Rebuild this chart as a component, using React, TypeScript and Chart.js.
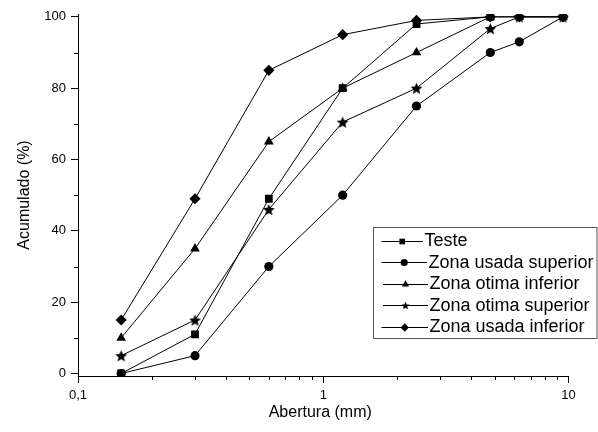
import React, { useEffect, useRef } from "react";
import { Chart, registerables } from "chart.js";

Chart.register(...registerables);

const aberturas = [0.15, 0.3, 0.6, 1.2, 2.4, 4.8, 6.3, 9.5];
const teste = [0, 11, 49, 80, 98, 100];
const zonaUsadaSuperior = [0, 5, 30, 50, 75, 90, 93, 100];
const zonaOtimaInferior = [10, 35, 65, 80, 90, 100, 100, 100];
const zonaOtimaSuperior = [5, 15, 46, 70.5, 80, 96.7, 100, 100];
const zonaUsadaInferior = [15, 49, 85, 95, 99, 100, 100, 100];

const seriesNames = [
  "Teste",
  "Zona usada superior",
  "Zona otima inferior",
  "Zona otima superior",
  "Zona usada inferior",
];
const xMajorTicks = [0.1, 1, 10];
const yMajorTicks = [0, 20, 40, 60, 80, 100];
const yMinorTicks = [10, 30, 50, 70, 90];
const xMinorTicks = [0.2, 0.3, 0.4, 0.5, 0.6, 0.7, 0.8, 0.9, 2, 3, 4, 5, 6, 7, 8, 9];

const FONT = "'Liberation Sans', Arial, sans-serif";

function makeStar(outer: number): HTMLCanvasElement {
  const size = Math.ceil(outer * 2 + 2);
  const c = document.createElement("canvas");
  c.width = size;
  c.height = size;
  const ctx = c.getContext("2d")!;
  const cx = size / 2;
  const cy = size / 2 + outer * 0.1;
  const inner = outer * 0.45;
  ctx.beginPath();
  for (let i = 0; i < 10; i++) {
    const r = i % 2 === 0 ? outer : inner;
    const a = -Math.PI / 2 + (i * Math.PI) / 5;
    const px = cx + r * Math.cos(a);
    const py = cy + r * Math.sin(a);
    if (i === 0) ctx.moveTo(px, py);
    else ctx.lineTo(px, py);
  }
  ctx.closePath();
  ctx.fillStyle = "#000";
  ctx.fill();
  return c;
}

export default function App() {
  const ref = useRef<HTMLCanvasElement | null>(null);

  useEffect(() => {
    if (!ref.current) return;
    const star = makeStar(6.2);
    const starSmall = makeStar(4.2);
    const styles: any[] = ["rect", "circle", "triangle", star, "rectRot"];
    const radii = [5.5, 4.6, 5.6, 6, 5.6];
    const legendStyles: any[] = ["rect", "circle", "triangle", starSmall, "rectRot"];
    const legendRadii = [4, 3.6, 4.2, 4, 4.2];
    const values = [teste, zonaUsadaSuperior, zonaOtimaInferior, zonaOtimaSuperior, zonaUsadaInferior];

    const datasets = values.map((vals, i) => ({
      label: seriesNames[i],
      data: vals.map((v, j) => ({ x: aberturas[j], y: v })),
      borderColor: "#000",
      backgroundColor: "#000",
      borderWidth: 1,
      pointStyle: styles[i],
      pointRadius: radii[i],
      pointBorderWidth: 0,
      pointBackgroundColor: "#000",
      tension: 0,
      fill: false,
    }));

    function drawMarker(ctx: CanvasRenderingContext2D, style: any, r: number, x: number, y: number) {
      ctx.save();
      ctx.fillStyle = "#000";
      if (typeof style !== "string") {
        ctx.drawImage(style, x - style.width / 2, y - style.height / 2);
        ctx.restore();
        return;
      }
      ctx.beginPath();
      if (style === "rect") {
        const s = r * Math.SQRT1_2;
        ctx.rect(x - s, y - s, 2 * s, 2 * s);
      } else if (style === "circle") {
        ctx.arc(x, y, r, 0, Math.PI * 2);
      } else if (style === "triangle") {
        ctx.moveTo(x, y - r);
        ctx.lineTo(x + r * 0.866, y + r * 0.5);
        ctx.lineTo(x - r * 0.866, y + r * 0.5);
        ctx.closePath();
      } else if (style === "rectRot") {
        ctx.moveTo(x - r, y);
        ctx.lineTo(x, y - r);
        ctx.lineTo(x + r, y);
        ctx.lineTo(x, y + r);
        ctx.closePath();
      }
      ctx.fill();
      ctx.restore();
    }

    const extras = {
      id: "extras",
      afterDraw(chart: any) {
        const ctx = chart.ctx as CanvasRenderingContext2D;
        const xs = chart.scales.x;
        const ys = chart.scales.y;
        const area = chart.chartArea;
        ctx.save();
        ctx.strokeStyle = "#000";
        ctx.lineWidth = 1;
        // minor ticks
        ctx.beginPath();
        for (const v of yMinorTicks) {
          const py = Math.round(ys.getPixelForValue(v)) + 0.5;
          ctx.moveTo(area.left - 4, py);
          ctx.lineTo(area.left, py);
        }
        for (const v of xMinorTicks) {
          const px = Math.round(xs.getPixelForValue(v)) + 0.5;
          ctx.moveTo(px, area.bottom);
          ctx.lineTo(px, area.bottom + 4);
        }
        ctx.stroke();

        // axis titles
        ctx.fillStyle = "#000";
        ctx.font = `16px ${FONT}`;
        ctx.textAlign = "center";
        ctx.textBaseline = "middle";
        ctx.fillText("Abertura (mm)", (area.left + area.right) / 2 - 3, 413);
        ctx.save();
        ctx.translate(25, 195);
        ctx.rotate(-Math.PI / 2);
        ctx.fillText("Acumulado (%)", 0, 0);
        ctx.restore();

        // legend
        const bx = 373.5, by = 227.5, bw = 223.5, bh = 111;
        ctx.fillStyle = "#fff";
        ctx.fillRect(bx, by, bw, bh);
        ctx.strokeStyle = "#555";
        ctx.strokeRect(bx, by, bw, bh);
        const rowsY = [240.5, 262, 283.5, 305, 326.5];
        const lineX0 = [381.5, 381.5, 383, 383, 381.5];
        const lineX1 = [423, 427, 428, 428, 428];
        const textX = [424.5, 428.5, 429.5, 429.5, 429.5];
        ctx.font = `18px ${FONT}`;
        ctx.textAlign = "left";
        ctx.textBaseline = "middle";
        for (let i = 0; i < 5; i++) {
          const y = rowsY[i];
          ctx.strokeStyle = "#000";
          ctx.beginPath();
          ctx.moveTo(lineX0[i], Math.round(y) + 0.5);
          ctx.lineTo(lineX1[i], Math.round(y) + 0.5);
          ctx.stroke();
          const mx = (lineX0[i] + lineX1[i]) / 2;
          drawMarker(ctx, legendStyles[i], legendRadii[i], mx, Math.round(y) + 0.5);
          ctx.fillStyle = "#000";
          ctx.fillText(seriesNames[i], textX[i], y + 1);
        }
        ctx.restore();
      },
    };

    const chart = new Chart(ref.current, {
      type: "line",
      data: { datasets },
      plugins: [extras],
      options: {
        animation: false,
        responsive: false,
        layout: { padding: { top: 14, right: 29.5, left: 0, bottom: 0 } },
        plugins: {
          legend: { display: false },
          tooltip: { enabled: false },
        },
        scales: {
          x: {
            type: "logarithmic",
            min: 0.1,
            max: 10,
            afterFit(scale: any) {
              scale.height = 56;
            },
            afterBuildTicks(scale: any) {
              scale.ticks = xMajorTicks.map((v) => ({ value: v }));
            },
            ticks: {
              color: "#000",
              font: { family: FONT, size: 13 },
              padding: 5,
              maxRotation: 0,
              autoSkip: false,
              callback: (v: any) => String(v).replace(".", ","),
            },
            grid: {
              drawOnChartArea: false,
              drawTicks: true,
              tickLength: 7,
              tickColor: "#000",
            },
            border: { display: true, color: "#000", width: 1 },
          },
          y: {
            type: "linear",
            min: -0.7,
            max: 100.8,
            afterFit(scale: any) {
              scale.width = 78;
            },
            afterBuildTicks(scale: any) {
              scale.ticks = yMajorTicks.map((v) => ({ value: v }));
            },
            ticks: {
              color: "#000",
              font: { family: FONT, size: 13 },
              padding: 5,
              autoSkip: false,
              callback: (v: any) => String(v),
            },
            grid: {
              drawOnChartArea: false,
              drawTicks: true,
              tickLength: 7,
              tickColor: "#000",
            },
            border: { display: true, color: "#000", width: 1 },
          },
        },
      } as any,
    });
    return () => chart.destroy();
  }, []);

  return (
    <div style={{ position: "fixed", left: 0, top: 0, width: 598, height: 432, background: "#fff" }}>
      <canvas ref={ref} width={598} height={432} style={{ width: 598, height: 432, display: "block" }} />
    </div>
  );
}
